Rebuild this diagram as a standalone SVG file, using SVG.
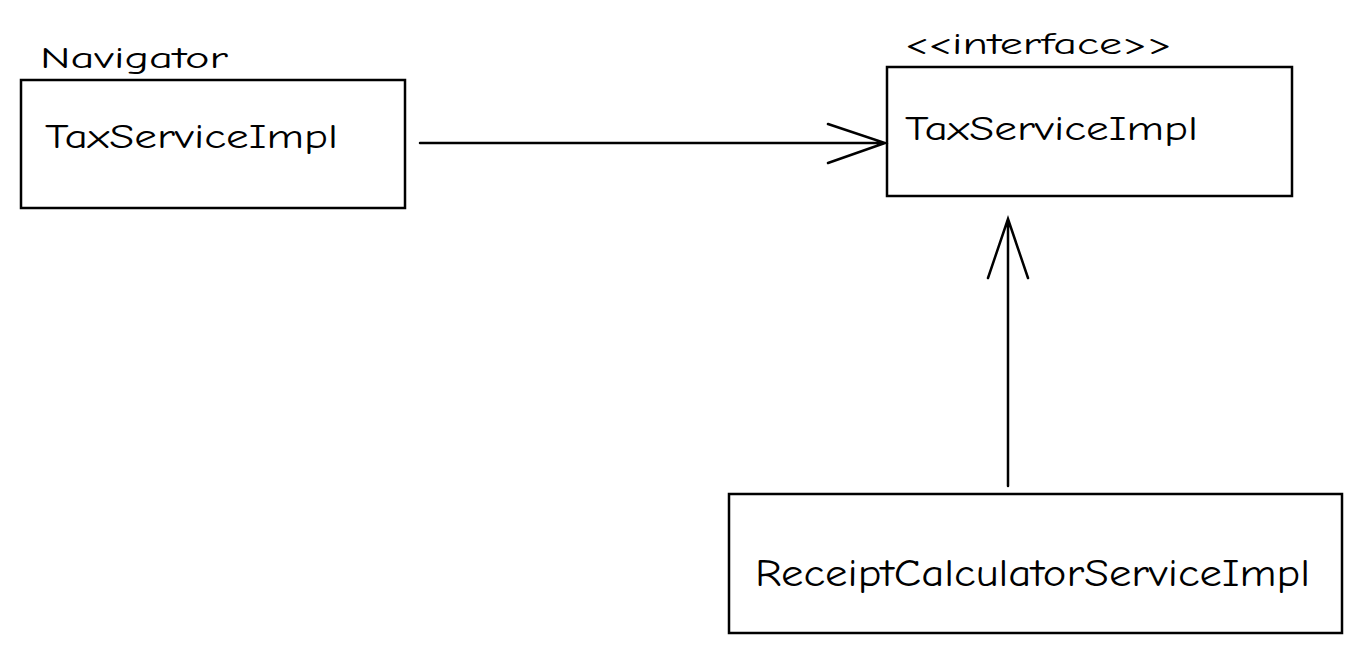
<svg xmlns="http://www.w3.org/2000/svg" width="1364" height="653" viewBox="0 0 1364 653">
<style>
.box{fill:none;stroke:#000;stroke-width:2.5}
.conn{fill:none;stroke:#000;stroke-width:2.5;stroke-linecap:round}
.t{font-family:"Comic Neue","Liberation Sans",sans-serif;fill:#000}
</style>
<rect width="1364" height="653" fill="#fff"/>
<g id="navigator">
<text class="t" x="40" y="68" font-size="30" textLength="188" lengthAdjust="spacingAndGlyphs">Navigator</text>
<rect class="box" x="21" y="80" width="384" height="128"/>
<text class="t" x="45" y="148" font-size="34" textLength="293" lengthAdjust="spacingAndGlyphs">TaxServiceImpl</text>
</g>
<g id="interface">
<text class="t" x="905" y="54" font-size="30" textLength="267" lengthAdjust="spacingAndGlyphs">&lt;&lt;interface&gt;&gt;</text>
<rect class="box" x="887" y="67" width="405" height="129"/>
<text class="t" x="905" y="140" font-size="34" textLength="293" lengthAdjust="spacingAndGlyphs">TaxServiceImpl</text>
</g>
<g id="receipt">
<rect class="box" x="729" y="494" width="613" height="139"/>
<text class="t" x="755" y="586" font-size="38" textLength="555" lengthAdjust="spacingAndGlyphs">ReceiptCalculatorServiceImpl</text>
</g>
<g id="connectors">
<path class="conn" d="M420 143 L885 143 M828 124 L885 143 L828 163"/>
<path class="conn" d="M1008 486 L1008 219 M988 278 L1008 219 L1028 278"/>
</g>
</svg>
